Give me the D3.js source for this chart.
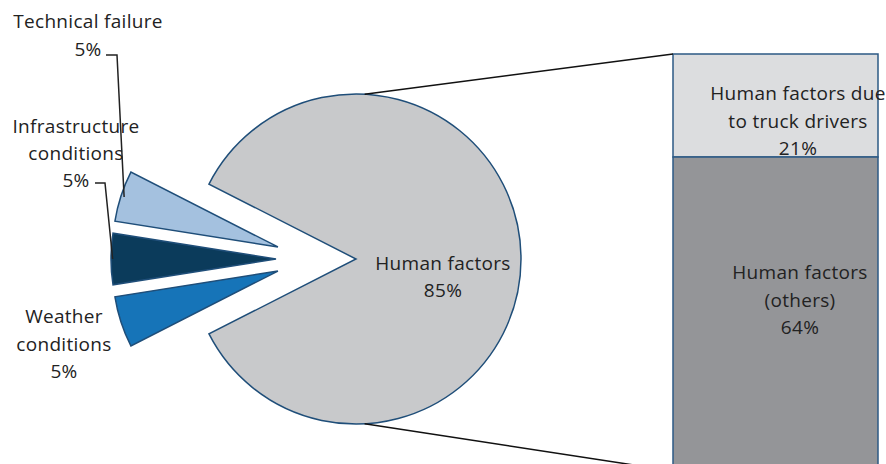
<!DOCTYPE html>
<html>
<head>
<meta charset="utf-8">
<script src="https://cdn.jsdelivr.net/npm/d3@7"></script>
<style>
  body { margin: 0; background: #fff; }
  text { font-family: "Open Sans", Lato, sans-serif; font-size: 19px; letter-spacing: 0.3px; fill: #222; }
</style>
</head>
<body>
<div id="graf"></div>
<script>
// pie slices (order clockwise, starting at the top of "Human factors")
const pieNames = ["Human factors", "Weather conditions", "Infrastructure conditions", "Technical failure"]
const pieValues = [85, 5, 5, 5]
const pieColors = ["#c8c9cb", "#1674b8", "#0b3b5b", "#a4c1df"]

// bar breakdown of "Human factors"
const barNames = ["Human factors due to truck drivers", "Human factors (others)"]
const barValues = [21, 64]
const barColors = ["#dcdddf", "#949598"]

const anchoTotal = 886
const altoTotal = 464
const deg = Math.PI / 180

const svg = d3.select("#graf")
  .append("svg")
  .attr("width", anchoTotal)
  .attr("height", altoTotal)

const cx = 356, cy = 259, r = 165
const grupoOffset = 41   // small slices pushed left as a group
const explode = 39       // and each one out along its bisector

const pie = d3.pie().sort(null).value((d) => d.value)
  .startAngle(-63 * deg).endAngle(297 * deg)
const arcs = pie(pieNames.map((n, i) => ({ name: n, value: pieValues[i], color: pieColors[i] })))
const arc = d3.arc().innerRadius(0).outerRadius(r)

const gPie = svg.append("g").attr("transform", `translate(${cx}, ${cy})`)

const offset = (d, i) => {
  if (i === 0) return [0, 0]
  const m = (d.startAngle + d.endAngle) / 2
  return [-grupoOffset + explode * Math.sin(m), -explode * Math.cos(m)]
}

gPie.selectAll("path").data(arcs)
  .enter()
  .append("path")
  .attr("d", arc)
  .attr("transform", (d, i) => `translate(${offset(d, i)})`)
  .attr("fill", (d) => d.data.color)
  .attr("stroke", "#1f4e79")
  .attr("stroke-width", 1.5)
  .attr("stroke-linejoin", "miter")

// bar
const total = d3.sum(barValues)
const y = d3.scaleLinear().domain([0, total]).range([54, 471])
const x = d3.scaleBand().domain(["Human factors"]).range([673, 878]).padding(0)

let acc = 0
const barData = barNames.map((n, i) => {
  const d = { name: n, value: barValues[i], color: barColors[i], y0: acc, y1: acc + barValues[i] }
  acc += barValues[i]
  return d
})

svg.selectAll("rect.bar").data(barData)
  .enter()
  .append("rect")
  .attr("class", "bar")
  .attr("x", x("Human factors"))
  .attr("y", (d) => y(d.y0))
  .attr("width", x.bandwidth())
  .attr("height", (d) => y(d.y1) - y(d.y0))
  .attr("fill", (d) => d.color)
  .attr("stroke", "#2c5a85")
  .attr("stroke-width", 1.5)

// connector lines from the pie to the bar
const a0 = 3 * deg
const lineas = [
  [[cx + r * Math.sin(a0), cy - r * Math.cos(a0)], [x("Human factors"), y(0)]],
  [[cx + r * Math.sin(a0), cy + r * Math.cos(a0)], [x("Human factors"), y(total)]]
]
svg.selectAll("line.con").data(lineas)
  .enter()
  .append("line")
  .attr("class", "con")
  .attr("x1", (d) => d[0][0]).attr("y1", (d) => d[0][1])
  .attr("x2", (d) => d[1][0]).attr("y2", (d) => d[1][1])
  .attr("stroke", "#111")
  .attr("stroke-width", 1.5)

// labels
const multi = (lines, px, py, dy = 27.5) => {
  const t = svg.append("text").attr("text-anchor", "middle")
  lines.forEach((l, i) => {
    t.append("tspan").attr("x", px).attr("y", py + i * dy).text(l)
  })
  return t
}

const pct = (v) => v + "%"

// slice end point for leader lines
const tip = (i, k) => {
  const d = arcs[i]
  const m = (d.startAngle + d.endAngle) / 2
  const [ox, oy] = offset(d, i)
  return [cx + ox + r * k * Math.sin(m), cy + oy - r * k * Math.cos(m)]
}

multi(["Technical failure", pct(pieValues[3])], 88, 28)
multi(["Infrastructure", "conditions", pct(pieValues[2])], 76, 133, 27)
multi(["Weather", "conditions", pct(pieValues[1])], 64, 323, 27.5)
multi(["Human factors", pct(pieValues[0])], 443, 270, 27)

multi(["Human factors due", "to truck drivers", pct(barValues[0])], 798, 100, 27.5)
multi(["Human factors", "(others)", pct(barValues[1])], 800, 279, 27.5)

const line = d3.line()
const t3 = tip(3, 0.98), t2 = tip(2, 0.99)
svg.append("path")
  .attr("d", line([[106, 55], [117, 55], t3]))
  .attr("fill", "none").attr("stroke", "#222").attr("stroke-width", 1.5)
svg.append("path")
  .attr("d", line([[95, 183], [105, 183], t2]))
  .attr("fill", "none").attr("stroke", "#222").attr("stroke-width", 1.5)
</script>
</body>
</html>
